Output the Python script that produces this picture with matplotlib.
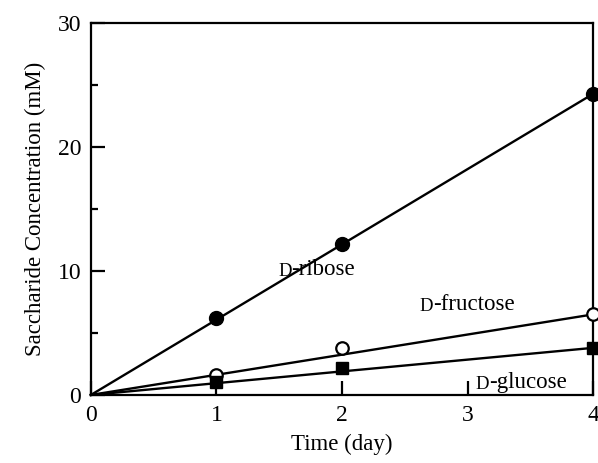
import matplotlib.pyplot as plt

plt.rcParams["font.family"] = ["Liberation Serif", "DejaVu Serif"]

# measured points
days = [1, 2, 4]
ribose = [6.2, 12.2, 24.3]
fructose = [1.6, 3.8, 6.5]
glucose = [1.05, 2.2, 3.8]

# fitted lines (through origin), endpoints
fit_x = [0, 4]
ribose_fit = [0, 24.3]
fructose_fit = [0, 6.5]
glucose_fit = [0, 3.8]

fig = plt.figure(figsize=(5.98, 4.63), dpi=100)
ax = fig.add_axes([0.152, 0.147, 0.840, 0.803])

ax.plot(fit_x, ribose_fit, color="black", lw=1.7, clip_on=False)
ax.plot(fit_x, fructose_fit, color="black", lw=1.7, clip_on=False)
ax.plot(fit_x, glucose_fit, color="black", lw=1.7, clip_on=False)

ax.plot(days, ribose, "o", color="black", ms=10, clip_on=False, zorder=5)
ax.plot(days, fructose, "o", mfc="white", mec="black", mew=1.6, ms=9,
        clip_on=False, zorder=5)
ax.plot(days, glucose, "s", color="black", ms=8.5, clip_on=False, zorder=5)


def sugar_label(x, y, name):
    # small-caps style "D" followed by the sugar name
    t = ax.text(x, y, "D", fontsize=13.5, va="baseline", ha="left")
    ax.annotate("-" + name, xy=(1, 0), xycoords=t, va="bottom", ha="left",
                fontsize=16.5)


sugar_label(1.49, 9.6, "ribose")
sugar_label(2.62, 6.8, "fructose")
sugar_label(3.06, 0.45, "glucose")

ax.set_xlim(0, 4)
ax.set_ylim(0, 30)
ax.set_xticks([0, 1, 2, 3, 4])
ax.set_yticks([0, 10, 20, 30])
ax.set_yticks([5, 15, 25], minor=True)
ax.tick_params(axis="both", which="major", direction="in", length=10,
               width=1.6, labelsize=17, pad=7)
ax.tick_params(axis="y", which="minor", direction="in", length=5, width=1.6)
ax.tick_params(axis="x", which="minor", bottom=False)

for s in ax.spines.values():
    s.set_linewidth(1.6)

ax.set_xlabel("Time (day)", fontsize=16.5, labelpad=6)
ax.set_ylabel("Saccharide Concentration (mM)", fontsize=16.5, labelpad=8)

fig.savefig("out.png", dpi=100)
